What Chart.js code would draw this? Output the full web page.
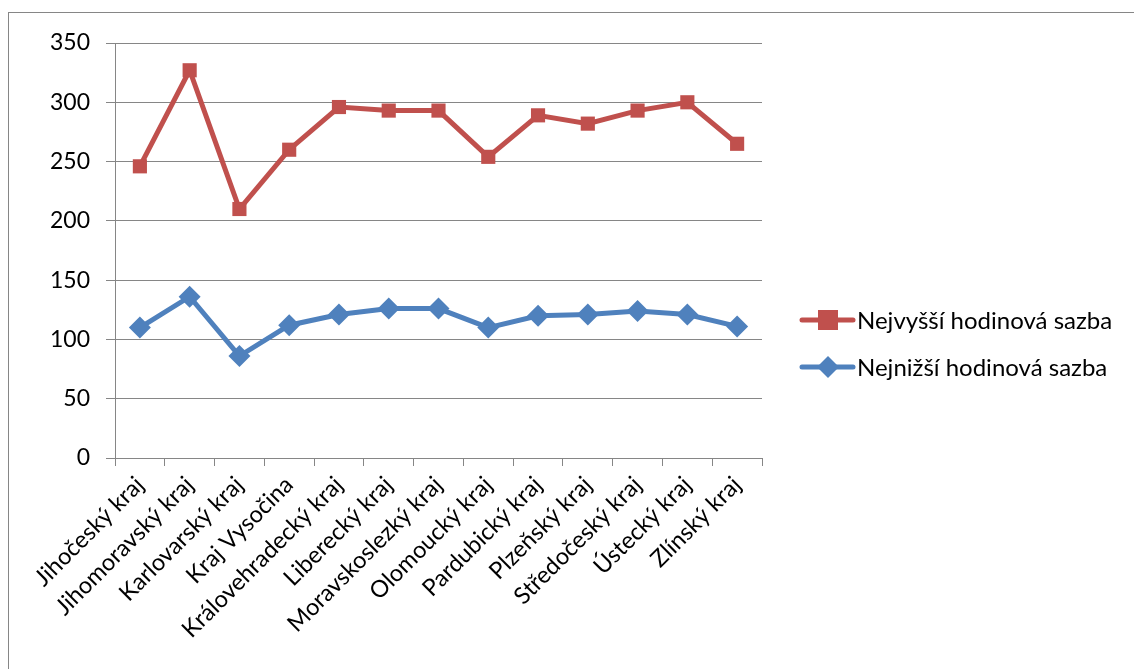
<!DOCTYPE html>
<html>
<head>
<meta charset="utf-8">
<script src="https://cdn.jsdelivr.net/npm/chart.js@4.4.0/dist/chart.umd.min.js"></script>
<style>
  html, body { margin: 0; padding: 0; background: #fff; }
  #wrap { width: 1134px; height: 669px; position: relative; }
</style>
</head>
<body>
<div id="wrap"><canvas id="myChart" width="1134" height="669"></canvas></div>
<script>
var kraje = ["Jihočeský kraj", "Jihomoravský kraj", "Karlovarský kraj", "Kraj Vysočina", "Královehradecký kraj", "Liberecký kraj", "Moravskoslezký kraj", "Olomoucký kraj", "Pardubický kraj", "Plzeňský kraj", "Středočeský kraj", "Ústecký kraj", "Zlínský kraj"];
var nejvyssi = [246, 327, 210, 260, 296, 293, 293, 254, 289, 282, 293, 300, 265];
var nejnizsi = [110, 136, 86, 112, 121, 126, 126, 110, 120, 121, 124, 121, 111];
var yTicks = [0, 50, 100, 150, 200, 250, 300, 350];

var gridColor = '#868686';
var fontFamily = 'Lato, "Open Sans", sans-serif';

// ramecek kolem grafu + legenda vpravo
var framePlugin = {
    id: 'frame',
    beforeDraw: function(chart) {
        var ctx = chart.ctx;
        ctx.save();
        ctx.fillStyle = '#fff';
        ctx.fillRect(0, 0, chart.width, chart.height);
        ctx.strokeStyle = gridColor;
        ctx.lineWidth = 1;
        ctx.strokeRect(8.5, 12.5, 1200, 700);
        ctx.restore();
    },
    afterDraw: function(chart) {
        var ctx = chart.ctx;
        ctx.save();
        var rows = [320, 367];
        chart.data.datasets.forEach(function(ds, i) {
            var y = rows[i];
            ctx.strokeStyle = ds.borderColor;
            ctx.lineWidth = 5;
            ctx.lineCap = 'round';
            ctx.beginPath();
            ctx.moveTo(802, y);
            ctx.lineTo(853, y);
            ctx.stroke();
            ctx.fillStyle = ds.backgroundColor;
            if (ds.pointStyle === 'rect') {
                ctx.fillRect(818, y - 10, 20, 20);
            } else {
                ctx.beginPath();
                ctx.moveTo(828, y - 11);
                ctx.lineTo(839, y);
                ctx.lineTo(828, y + 11);
                ctx.lineTo(817, y);
                ctx.closePath();
                ctx.fill();
            }
            ctx.fillStyle = '#000';
            ctx.font = '24px ' + fontFamily;
            ctx.textBaseline = 'middle';
            ctx.textAlign = 'left';
            ctx.fillText(ds.label, 857, y + 1);
        });
        ctx.restore();
    }
};

var ctx = document.getElementById('myChart').getContext('2d');
new Chart(ctx, {
    type: 'line',
    data: {
        labels: kraje,
        datasets: [{
            label: 'Nejvyšší hodinová sazba',
            data: nejvyssi,
            borderColor: '#C0504D',
            backgroundColor: '#C0504D',
            borderWidth: 5,
            pointStyle: 'rect',
            pointRadius: 10,
            pointBorderWidth: 0,
            tension: 0
        }, {
            label: 'Nejnižší hodinová sazba',
            data: nejnizsi,
            borderColor: '#4F81BD',
            backgroundColor: '#4F81BD',
            borderWidth: 5,
            pointStyle: 'rectRot',
            pointRadius: 11,
            pointBorderWidth: 0,
            tension: 0
        }]
    },
    options: {
        responsive: false,
        animation: false,
        layout: {
            padding: { left: 20, right: 372, top: 43, bottom: 11 }
        },
        plugins: {
            legend: { display: false },
            tooltip: { enabled: false }
        },
        scales: {
            x: {
                offset: true,
                grid: {
                    offset: true,
                    drawOnChartArea: false,
                    drawTicks: true,
                    tickLength: 8,
                    color: gridColor
                },
                border: { color: gridColor, width: 1 },
                ticks: {
                    color: '#000',
                    font: { family: fontFamily, size: 23.5 },
                    maxRotation: 45,
                    minRotation: 45,
                    autoSkip: false,
                    padding: 5
                },
                afterFit: function(scale) { scale.height = 200; }
            },
            y: {
                min: 0,
                max: 350,
                afterBuildTicks: function(scale) {
                    scale.ticks = yTicks.map(function(v) { return { value: v }; });
                },
                grid: {
                    color: gridColor,
                    lineWidth: 1,
                    drawTicks: true,
                    tickLength: 9
                },
                border: { color: gridColor, width: 1 },
                ticks: {
                    color: '#000',
                    font: { family: fontFamily, size: 23 },
                    padding: 16
                },
                afterFit: function(scale) { scale.width = 95; }
            }
        }
    },
    plugins: [framePlugin]
});
</script>
</body>
</html>
